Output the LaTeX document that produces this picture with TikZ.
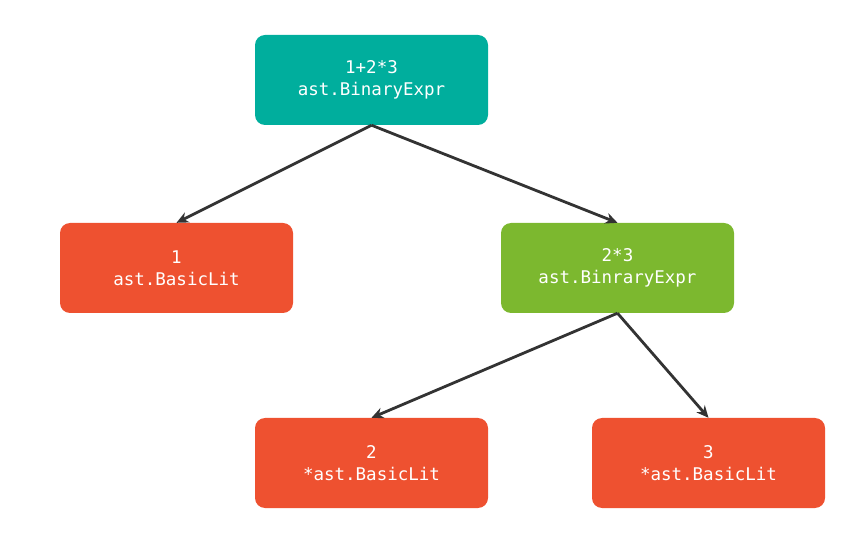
\documentclass[tikz,border=0pt]{standalone}
\usepackage{fontspec}
\setmonofont{DejaVu Sans Mono}
\usetikzlibrary{arrows.meta}
\definecolor{tealbox}{HTML}{00AE9D}
\definecolor{redbox}{HTML}{EE5130}
\definecolor{greenbox}{HTML}{7CB82F}
\definecolor{edgegray}{HTML}{333333}
\tikzset{
    astnode/.style={rounded corners=10pt, minimum width=233pt, minimum height=90pt,
        text=white, align=center, font=\ttfamily\fontsize{17.5}{22}\selectfont},
    astedge/.style={draw=edgegray, line width=2.8pt, -{Stealth[length=12pt,width=11pt]}}
}
\begin{document}
\begin{tikzpicture}[x=1pt,y=-1pt]
                    \useasboundingbox (0,0) rectangle (860,537);
                    \node[astnode, fill=tealbox]  (root)  at (371.5, 80)  {1+2*3\\ast.BinaryExpr};
                    \node[astnode, fill=redbox]   (one)   at (176.5, 268) {1\\ast.BasicLit};
                    \node[astnode, fill=greenbox] (mul)   at (617.5, 268) {2*3\\ast.BinraryExpr};
                    \node[astnode, fill=redbox]   (two)   at (371.5, 463) {2\\*ast.BasicLit};
                    \node[astnode, fill=redbox]   (three) at (708.5, 463) {3\\*ast.BasicLit};
                    \draw[astedge] (root.south) -- (one.north);
                    \draw[astedge] (root.south) -- (mul.north);
                    \draw[astedge] (mul.south) -- (two.north);
                    \draw[astedge] (mul.south) -- (three.north);
                \end{tikzpicture}
\end{document}
